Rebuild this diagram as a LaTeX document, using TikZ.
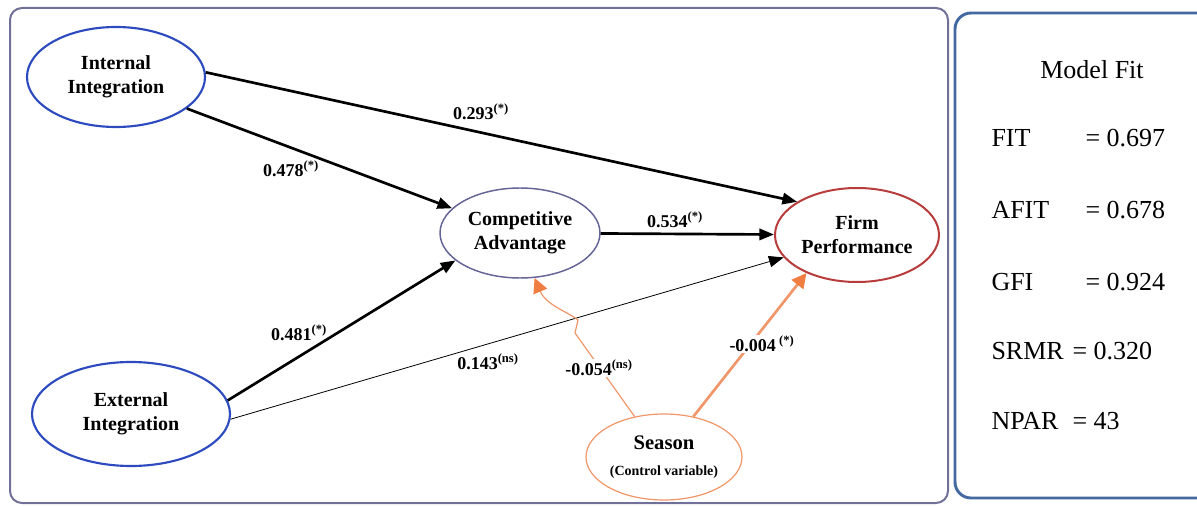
\documentclass[tikz,border=0pt]{standalone}
\usepackage{fontspec}
\setmainfont{Liberation Serif}
\usetikzlibrary{shapes.geometric,arrows.meta}

\definecolor{framegray}{RGB}{112,112,152}
\definecolor{fitblue}{RGB}{68,104,160}
\definecolor{intblue}{RGB}{45,75,190}
\definecolor{cagray}{RGB}{100,100,150}
\definecolor{fpred}{RGB}{185,60,60}
\definecolor{seasonorange}{RGB}{240,150,105}
\definecolor{tiporange}{RGB}{240,125,65}

\tikzset{every picture/.style={line width=0.75pt}}

\begin{document}
\begin{tikzpicture}[x=0.75pt,y=0.75pt,yscale=-1,xscale=1,
  latent/.style={ellipse,draw,fill=white,inner sep=0pt,align=center,
    font=\bfseries\fontsize{15}{18}\selectfont},
  effect/.style={line width=2pt,-{Triangle[length=11pt,width=8.5pt]}},
  weak/.style={line width=0.6pt,-{Triangle[length=11pt,width=8.5pt]}},
  control/.style={draw=seasonorange,-{Triangle[length=11pt,width=11pt,color=tiporange]}},
  coef/.style={font=\bfseries\fontsize{13.5}{15}\selectfont,inner sep=1pt},
  fitrow/.style={font=\fontsize{19.5}{22}\selectfont,anchor=west,inner sep=0pt}]
\useasboundingbox (0,0) rectangle (1197,506);

%Frames
\draw [framegray,line width=1.5pt,rounded corners=9pt] (10,8) rectangle (948,503) ;
\draw [fitblue,line width=2.2pt,rounded corners=12pt] (955,13) rectangle (1215,498) ;

%Constructs
\node [latent,draw=intblue,line width=1.6pt,minimum width=133.5pt,minimum height=75pt] (ii) at (116,77) {Internal\\Integration};
\node [latent,draw=intblue,line width=1.6pt,minimum width=148.5pt,minimum height=78pt] (ei) at (131,414) {External\\Integration};
\node [latent,draw=cagray,line width=1.1pt,minimum width=120pt,minimum height=67.5pt] (ca) at (520,233) {Competitive\\Advantage};
\node [latent,draw=fpred,line width=1.5pt,minimum width=123pt,minimum height=70.5pt] (fp) at (857,235) {Firm\\Performance};
\node [latent,draw=seasonorange,line width=0.9pt,minimum width=117pt,minimum height=64.5pt,font=\bfseries\fontsize{15.5}{18}\selectfont] (season) at (664,457)
  {Season\\[1pt]{\fontsize{10.5}{12}\selectfont(Control variable)}};

%Paths
\draw [effect] (ii.3) -- (fp.151) ;
\draw [effect] (ii.-24) -- (ca.160) ;
\draw [effect] (ca) -- (fp) ;
\draw [effect] (ei.8) -- (ca.-157) ;
\draw [weak] (ei.-3) -- (fp.-163) ;
\draw [control,line width=2pt] (season.54) -- (fp.-143) ;
\draw [control,line width=0.9pt] (season.126) -- (575,333) -- (578,320) .. controls (568,312) and (546,305) .. (ca.-72) ;

%Coefficients
\node [coef] (c1) at (481,112) {0.293\textsuperscript{(*)}};
\node [coef] (c2) at (291,169) {0.478\textsuperscript{(*)}};
\node [coef] (c3) at (675,220) {0.534\textsuperscript{(*)}};
\node [coef] (c4) at (299,333) {0.481\textsuperscript{(*)}};
\node [coef] (c5) at (488,362) {0.143\textsuperscript{(ns)}};
\node [coef,fill=white] (c6) at (599,368) {-0.054\textsuperscript{(ns)}};
\node [coef,fill=white] (c7) at (762,344) {-0.004\textsuperscript{ (*)}};

%Model fit
\node [font=\fontsize{19.5}{22}\selectfont] (mf) at (1092,70) {Model Fit};
\foreach \lbl/\val/\yy/\vx [count=\i] in {FIT/0.697/138/1085,AFIT/0.678/210/1085,GFI/0.924/282/1085,SRMR/0.320/351/1072,NPAR/43/421/1072}
{
  \node [fitrow] (fitname\i) at (991,\yy) {\lbl};
  \node [fitrow] (fitval\i) at (\vx,\yy) {= \val};
}

\end{tikzpicture}
\end{document}
